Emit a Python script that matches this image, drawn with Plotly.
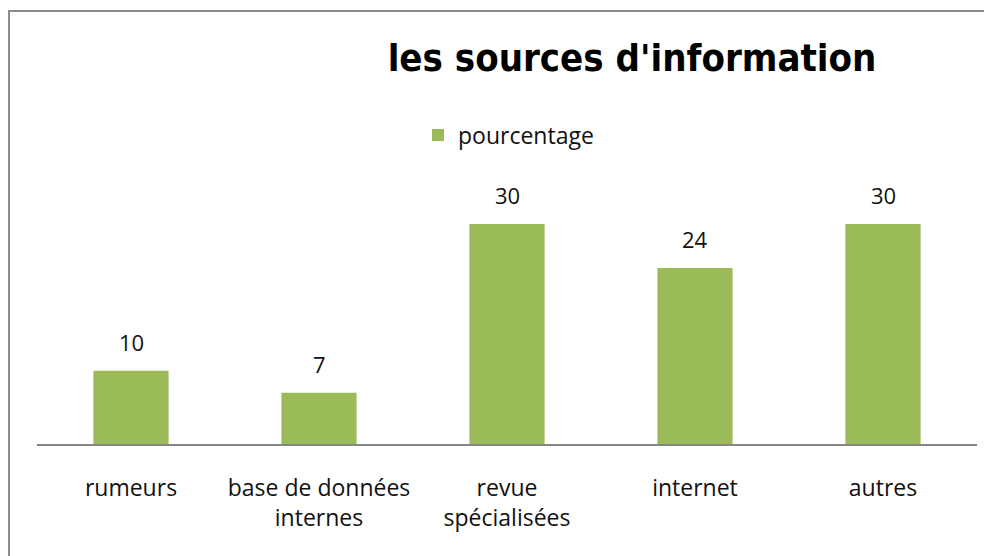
import plotly.graph_objects as go

# chart data
categories = ["rumeurs", "base de données<br>internes", "revue<br>spécialisées", "internet", "autres"]
pourcentage = [10, 7, 30, 24, 30]
series_name = "pourcentage"
title_text = "les sources d'information"

# page is shown with an 8px body margin, so work in screen px minus 8
OFF = 8
W, H = 992, 556
L, R, T, B = 37 - OFF, 992 - 977 + OFF, 202 - OFF, 556 - 444 + OFF
plot_w = W - L - R
plot_h = H - T - B


def px_x(p):
    return (p - OFF - L) / plot_w


def px_y(p):
    return (H - B - (p - OFF)) / plot_h


fig = go.Figure()
fig.add_trace(go.Bar(
    x=categories,
    y=pourcentage,
    name=series_name,
    marker=dict(color="#9BBB59", line=dict(width=0)),
    showlegend=True,
))

# value labels above bars
for c, v in zip(categories, pourcentage):
    fig.add_annotation(x=c, y=v, text=str(v), showarrow=False,
                       yanchor="bottom", yshift=12,
                       font=dict(family="Open Sans", size=22, color="#111111"))

# outer border of the chart area
fig.add_shape(type="rect", xref="paper", yref="paper",
              x0=px_x(9), x1=px_x(1020), y0=px_y(620), y1=px_y(11),
              line=dict(color="#8c8c8c", width=2), fillcolor="rgba(0,0,0,0)")

fig.update_layout(
    width=W, height=H,
    margin=dict(l=L, r=R, t=T, b=B),
    paper_bgcolor="white", plot_bgcolor="white",
    bargap=0.6,
    title=dict(text="<b>" + title_text + "</b>", x=(632 - OFF) / W, xanchor="center",
               y=1 - (58 - OFF) / H, yanchor="middle",
               font=dict(family="DejaVu Sans Condensed", size=38, color="black")),
    legend=dict(x=px_x(418), y=px_y(135), xanchor="left", yanchor="middle",
                orientation="h", font=dict(family="Open Sans", size=23, color="#111111"),
                itemwidth=30, bgcolor="rgba(0,0,0,0)"),
    xaxis=dict(showline=True, linecolor="#868686", linewidth=2, ticks="",
               tickfont=dict(family="Open Sans", size=23, color="#111111"),
               ticklabelstandoff=22, showgrid=False),
    yaxis=dict(range=[0, 33], visible=False, showgrid=False, zeroline=False),
)

fig.write_html("out.html")
